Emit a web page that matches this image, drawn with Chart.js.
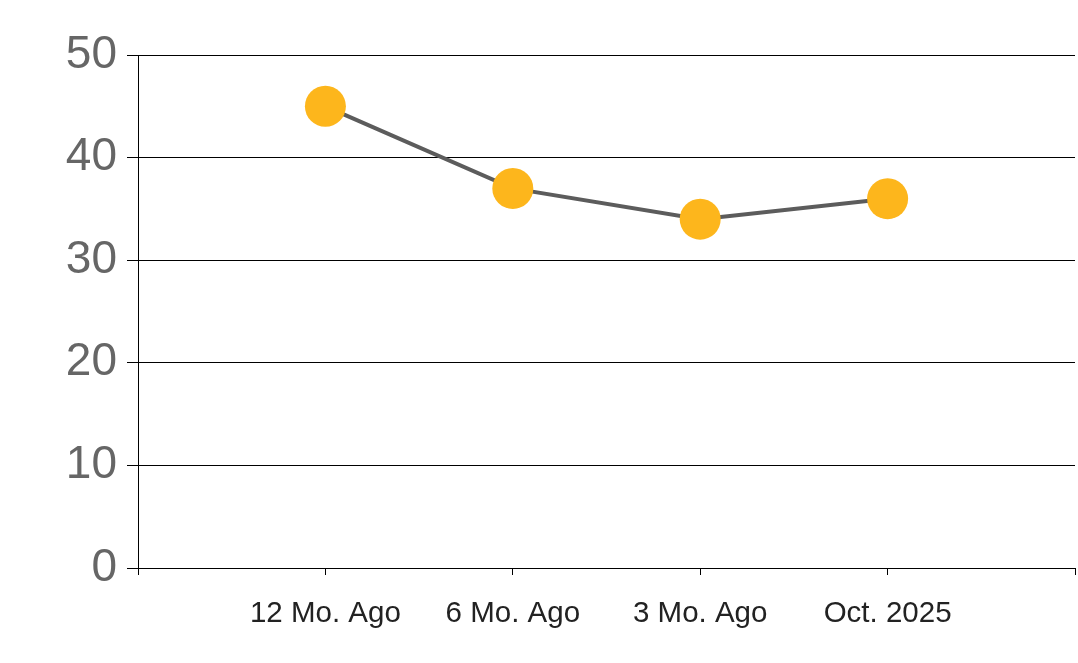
<!DOCTYPE html>
<html>
<head>
<meta charset="utf-8">
<script src="https://cdn.jsdelivr.net/npm/chart.js@4"></script>
<style>
html,body{margin:0;padding:0;background:#fff;}
#wrap{width:1078px;height:663px;}
</style>
</head>
<body>
<div id="wrap"><canvas id="c" width="1078" height="663"></canvas></div>
<script>
const categories = ['', '12 Mo. Ago', '6 Mo. Ago', '3 Mo. Ago', 'Oct. 2025', ''];
const values = [null, 45, 37, 34, 36, null];
const yTicks = [0, 10, 20, 30, 40, 50];

const fixRight = {
  id: 'fixRight',
  afterLayout(chart) {
    const R = 1075;
    const ca = chart.chartArea;
    ca.right = R; ca.width = R - ca.left;
    const x = chart.scales.x;
    x.right = R; x.width = R - x.left;
    x.configure();
  }
};

new Chart(document.getElementById('c'), {
  type: 'line',
  data: {
    labels: categories,
    datasets: [{
      data: values,
      borderColor: '#5c5c5c',
      borderWidth: 4,
      pointRadius: 20.5,
      pointHoverRadius: 20.5,
      pointBackgroundColor: '#FDB61C',
      pointBorderColor: '#FDB61C',
      pointBorderWidth: 0,
      tension: 0,
      spanGaps: false
    }]
  },
  plugins: [fixRight],
  options: {
    responsive: false,
    animation: false,
    devicePixelRatio: 1,
    layout: { padding: { top: 55, right: 3, left: 0, bottom: 0 } },
    plugins: { legend: { display: false }, tooltip: { enabled: false } },
    scales: {
      x: {
        type: 'category',
        offset: false,
        grid: { drawOnChartArea: false, drawTicks: true, tickLength: 7, color: '#000', lineWidth: 1 },
        border: { display: false },
        ticks: { color: '#222', font: { family: 'Liberation Sans', size: 29.5 }, padding: 21, maxRotation: 0, autoSkip: false },
        afterFit: s => { s.height = 95; }
      },
      y: {
        min: 0, max: 50,
        afterBuildTicks: s => { s.ticks = yTicks.map(v => ({ value: v })); },
        grid: { color: '#000', lineWidth: 1, tickLength: 11 },
        border: { display: true, color: '#000', width: 1 },
        ticks: { color: '#666', font: { family: 'Liberation Sans', size: 46 }, padding: 10 },
        afterFit: s => { s.width = 138; }
      }
    }
  }
});
</script>
</body>
</html>
